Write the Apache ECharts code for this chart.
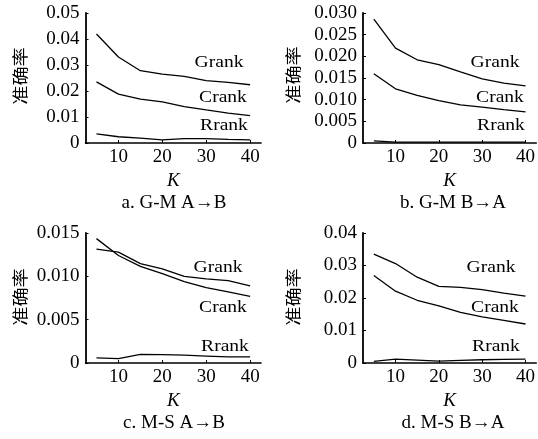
<!DOCTYPE html>
<html><head><meta charset="utf-8">
<script src="https://cdn.jsdelivr.net/npm/echarts@6/dist/echarts.min.js"></script>
<style>html,body{margin:0;padding:0;background:#fff}#c{width:538px;height:439px}</style>
</head><body><div id="c"></div>
<script>
const kValues = [5, 10, 15, 20, 25, 30, 35, 40];
const xTicks = [10, 20, 30, 40];
const seriesNames = ['Grank', 'Crank', 'Rrank'];
const panelTitles = ['a. G-M A\u2192B', 'b. G-M B\u2192A', 'c. M-S A\u2192B', 'd. M-S B\u2192A'];
const yAxisName = '准确率';
const xAxisName = 'K';

const aGrank = [0.0419, 0.0331, 0.0278, 0.0265, 0.0256, 0.0240, 0.0233, 0.0224];
const aCrank = [0.0235, 0.0188, 0.0169, 0.0158, 0.0140, 0.0127, 0.0115, 0.0105];
const aRrank = [0.0035, 0.0024, 0.0019, 0.0012, 0.0017, 0.0017, 0.0014, 0.0012];

const bGrank = [0.0286, 0.0219, 0.0192, 0.0181, 0.0164, 0.0148, 0.0138, 0.0132];
const bCrank = [0.0160, 0.0125, 0.0110, 0.0098, 0.0088, 0.0083, 0.0077, 0.0072];
const bRrank = [0.0005, 0.0002, 0.0002, 0.0002, 0.0002, 0.0002, 0.0002, 0.0002];

const cGrank = [0.01315, 0.0128, 0.01146, 0.01085, 0.0100, 0.0097, 0.0095, 0.0089];
const cCrank = [0.01435, 0.0124, 0.01115, 0.0103, 0.0094, 0.0087, 0.0082, 0.0077];
const cRrank = [0.0006, 0.0005, 0.0010, 0.00096, 0.0009, 0.0008, 0.0007, 0.0007];

const dGrank = [0.0335, 0.0306, 0.0264, 0.0236, 0.0233, 0.0226, 0.0215, 0.0206];
const dCrank = [0.0269, 0.0221, 0.0193, 0.0176, 0.0156, 0.0142, 0.0131, 0.0120];
const dRrank = [0.0005, 0.0012, 0.0009, 0.0006, 0.0008, 0.0010, 0.0011, 0.0012];

const yMax = [0.05, 0.03, 0.015, 0.04];
const yInterval = [0.01, 0.005, 0.005, 0.01];
const yDecimals = [2, 3, 3, 2];

const panelData = [
  [aGrank, aCrank, aRrank],
  [bGrank, bCrank, bRrank],
  [cGrank, cCrank, cRrank],
  [dGrank, dCrank, dRrank]
];

// layout
const FONT = '"Liberation Serif", "Times New Roman", serif';
const CJK = '"Noto Sans CJK SC", sans-serif';
const gridPos = [
  {left: 85.5, top: 13},
  {left: 363, top: 13},
  {left: 85.5, top: 233},
  {left: 363, top: 233}
];
const GW = 175.6, GH = 130;
const labelPos = [
  [[219, 63], [223, 98], [224, 126]],
  [[495, 63], [500, 98], [501, 126]],
  [[218, 268], [223, 308], [225, 347]],
  [[491, 268], [495, 308], [496, 347]]
];
const yNamePos = [[20, 76], [293, 75], [20, 297], [293, 297]];
const titlePos = [[174, 203], [453, 203], [174, 423], [453, 423]];

const grids = [], xAxes = [], yAxes = [], series = [], graphics = [];
for (let p = 0; p < 4; p++) {
  grids.push({left: gridPos[p].left, top: gridPos[p].top, width: GW, height: GH, containLabel: false});
  xAxes.push({
    type: 'value', gridIndex: p, min: 2.5, max: 42.5,
    axisLine: {show: true, lineStyle: {color: '#000', width: 1.5}},
    axisTick: {show: true, inside: true, length: 3, customValues: xTicks, lineStyle: {color: '#000', width: 1}},
    axisLabel: {show: true, customValues: xTicks, color: '#000', fontFamily: FONT, fontSize: 19, margin: 5},
    splitLine: {show: false},
    name: xAxisName, nameLocation: 'middle', nameGap: 28,
    nameTextStyle: {color: '#000', fontFamily: FONT, fontSize: 19, fontStyle: 'italic'}
  });
  const dec = yDecimals[p];
  yAxes.push({
    type: 'value', gridIndex: p, min: 0, max: yMax[p], interval: yInterval[p],
    axisLine: {show: true, lineStyle: {color: '#000', width: 1.8}},
    axisTick: {show: true, inside: true, length: 3, lineStyle: {color: '#000', width: 1}},
    axisLabel: {color: '#000', fontFamily: FONT, fontSize: 19, margin: 6,
      formatter: v => (Math.abs(v) < 1e-12 ? '0' : v.toFixed(dec))},
    splitLine: {show: false}
  });
  for (let s = 0; s < 3; s++) {
    series.push({
      type: 'line', name: seriesNames[s], xAxisIndex: p, yAxisIndex: p,
      data: kValues.map((k, i) => [k, panelData[p][s][i]]),
      showSymbol: false, symbol: 'none', smooth: false, silent: true,
      lineStyle: {color: '#000', width: 1.3}
    });
    graphics.push({
      type: 'text', x: labelPos[p][s][0], y: labelPos[p][s][1], scaleX: 1.15,
      style: {text: seriesNames[s], fill: '#000', font: '17px ' + FONT, textAlign: 'center', textVerticalAlign: 'middle'}
    });
  }
  graphics.push({
    type: 'text', x: yNamePos[p][0], y: yNamePos[p][1], rotation: Math.PI / 2, scaleX: 1.2,
    style: {text: yAxisName, fill: '#000', font: '16px ' + CJK, textAlign: 'center', textVerticalAlign: 'middle'}
  });
  graphics.push({
    type: 'text', x: titlePos[p][0], y: titlePos[p][1],
    style: {text: panelTitles[p], fill: '#000', font: '19px ' + FONT, textAlign: 'center', textVerticalAlign: 'middle'}
  });
}

const chart = echarts.init(document.getElementById('c'), null, {renderer: 'canvas'});
chart.setOption({
  animation: false,
  backgroundColor: '#fff',
  grid: grids, xAxis: xAxes, yAxis: yAxes, series: series,
  graphic: graphics
});
</script></body></html>
